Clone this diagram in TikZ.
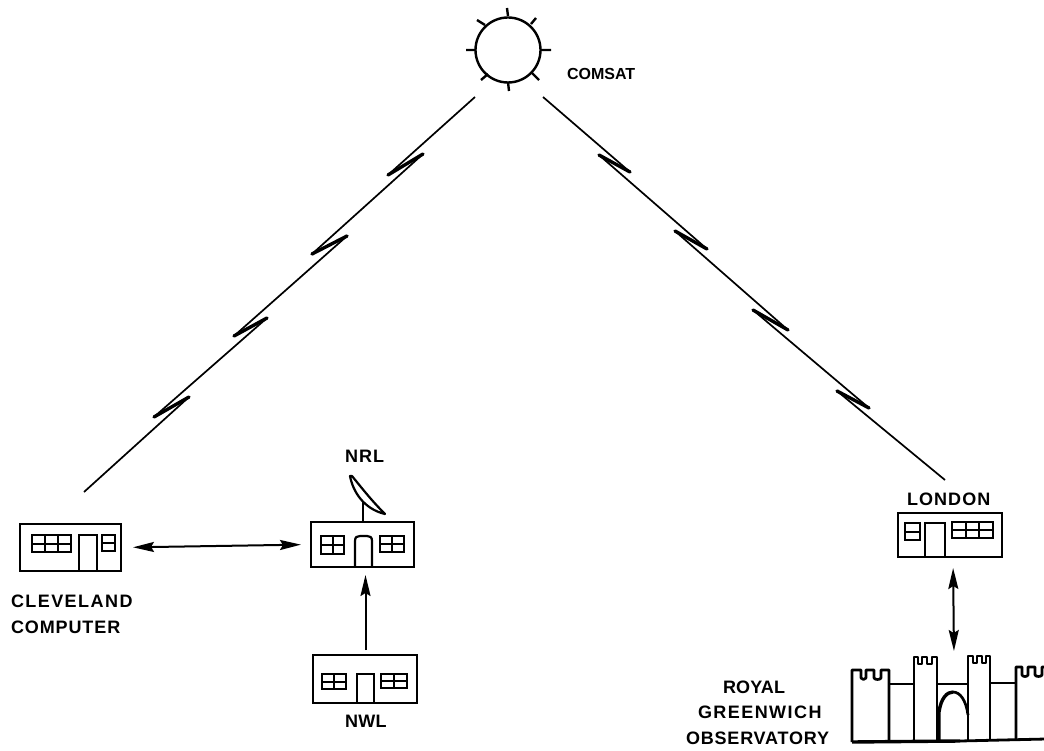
\documentclass[tikz,border=0pt]{standalone}
\usepackage{fontspec}
\setmainfont{Liberation Sans}
\newfontfamily\lblfont{Liberation Sans Bold}
\usetikzlibrary{arrows.meta,calc}
\newcommand{\bwin}[5]{% x0 y0 x1 y1 cols
  \draw[winline] (#1,#2) rectangle (#3,#4);
  \draw[paneline] (#1,{(#2+#4)/2}) -- (#3,{(#2+#4)/2});
  \ifnum#5>1
    \foreach \k in {1,...,\numexpr#5-1\relax}{
      \draw[paneline] ({#1+(#3-#1)*\k/#5},#2) -- ({#1+(#3-#1)*\k/#5},#4);
    }
  \fi
}
\newcommand{\bolt}[2]{\draw[boltline] (#1) -- (#2);}
\tikzset{
  bldg/.style={draw=black,line width=2.7pt,inner sep=0pt,outer sep=0pt,fill=white},
  winline/.style={line width=2.7pt},
  paneline/.style={line width=2pt},
  doorline/.style={line width=2.2pt},
  radio/.style={line width=1.7pt},
  boltline/.style={line width=3.4pt,line cap=round},
  tick/.style={line width=2.4pt},
  lbl/.style={anchor=base west,inner sep=0pt,outer sep=0pt,font=\fontsize{18}{18}\selectfont\lblfont},
  link/.style={line width=2pt},
  head/.style={{Stealth[length=21pt,width=10pt,inset=3pt]}-{Stealth[length=21pt,width=10pt,inset=3pt]}},
  headone/.style={-{Stealth[length=21pt,width=10pt,inset=3pt]}},
  castle/.style={line width=2.7pt,line join=round},
}
\begin{document}
\begin{tikzpicture}[x=1pt,y=-1pt]
\useasboundingbox (0,0) rectangle (1044,751);
% satellite
\node[draw=black,line width=2.4pt,circle,minimum size=65pt,inner sep=0pt,outer sep=0pt] (sat) at (508,50) {};
\draw[tick] (507,8)--(508,16) (536,18)--(531,24) (551,50)--(541,50) (539,80)--(532,73)
  (509,91)--(508,82) (481,80)--(488,74) (466,50)--(475,50) (477,20)--(485,25);
\node[lbl] (comsat) at (567,80) {\fontsize{16}{16}\selectfont COMSAT};
% left link
\coordinate (ls) at (475,97); \coordinate (le) at (84,492);
\coordinate (la1) at (388,175); \coordinate (lb1) at (423,154);
\coordinate (la2) at (312,254); \coordinate (lb2) at (347,236);
\coordinate (la3) at (234,336); \coordinate (lb3) at (267,318);
\coordinate (la4) at (154,417); \coordinate (lb4) at (189,397);
\draw[radio,line join=round] (ls)--(la1) (lb1)--(la2) (lb2)--(la3) (lb3)--(la4) (lb4)--(le);
\bolt{la1}{lb1}\bolt{la2}{lb2}\bolt{la3}{lb3}\bolt{la4}{lb4}
% right link
\coordinate (rs) at (543,97); \coordinate (re) at (945,480);
\coordinate (ra1) at (599,155); \coordinate (rb1) at (630,172);
\coordinate (ra2) at (675,231); \coordinate (rb2) at (707,249);
\coordinate (ra3) at (753,310); \coordinate (rb3) at (788,330);
\coordinate (ra4) at (837,391); \coordinate (rb4) at (869,408);
\draw[radio,line join=round] (rs)--(rb1) (ra1)--(rb2) (ra2)--(rb3) (ra3)--(rb4) (ra4)--(re);
\bolt{ra1}{rb1}\bolt{ra2}{rb2}\bolt{ra3}{rb3}\bolt{ra4}{rb4}
% Cleveland
\node[bldg,minimum width=101pt,minimum height=47pt] (cleveland) at (70.5,547.5) {};
\bwin{32}{535}{71}{552}{3}
\bwin{102}{535}{115}{551}{1}
\draw[doorline] (79,571)--(79,535)--(97,535)--(97,571);
\node[lbl] (cl1) at (11,607) {\addfontfeature{LetterSpace=8}CLEVELAND};
\node[lbl] (cl2) at (11,633) {\addfontfeature{LetterSpace=5}COMPUTER};
% NRL
\node[bldg,minimum width=103pt,minimum height=45pt] (nrl) at (362.5,544.5) {};
\bwin{321}{536}{344}{554}{2}
\bwin{380}{536}{404}{552}{2}
\draw[doorline] (355,567)--(355,541) .. controls (355,537) and (357,536) .. (360,536) -- (367,536) .. controls (370,536) and (372,537) .. (372,541) -- (372,567);
\node[lbl] (nrltext) at (345,462) {\addfontfeature{LetterSpace=6}NRL};
\draw[line width=2.2pt] (363,522)--(363,502);
\draw[line width=2.2pt,line join=round,fill=white] (350,476) .. controls (353,492) and (364,509) .. (385,514)
  .. controls (371,500) and (361,487) .. (352,476) -- cycle;
% NWL
\node[bldg,minimum width=104pt,minimum height=48pt] (nwl) at (365,679) {};
\bwin{322}{674}{346}{689}{2}
\bwin{381}{674}{407}{688}{2}
\draw[doorline] (357,703)--(357,674)--(374,674)--(374,703);
\node[lbl] (nwltext) at (345,727) {\addfontfeature{LetterSpace=2}NWL};
% London
\node[bldg,minimum width=104pt,minimum height=44pt] (london) at (950,535) {};
\bwin{905}{523}{920}{540}{1}
\bwin{952}{522}{993}{538}{3}
\draw[doorline] (925,557)--(925,523)--(945,523)--(945,557);
\node[lbl] (londontext) at (907,505) {\addfontfeature{LetterSpace=6}LONDON};
% Castle
\draw[castle] (852,742)--(852,670)--(861,670)--(861,678) .. controls (862,680) and (865,680) .. (866,678) --(866,670)--(874,670)--(874,678) .. controls (875,680) and (880,680) .. (881,678) --(881,670)--(889,670)--(889,742);
\draw[castle] (889,684)--(914,684);
\draw[castle] (914,742)--(914,657)--(918,657)--(918,664)--(922,664)--(922,657)--(927,657)--(927,664)--(932,664)--(932,657)--(937,657)--(937,741);
\draw[castle] (937,684)--(968,684);
\draw[castle] (968,741)--(968,656)--(973,656)--(973,663)--(977,663)--(977,656)--(982,656)--(982,663)--(986,663)--(986,656)--(990,656)--(990,741);
\draw[castle] (990,683)--(1016,683);
\draw[castle] (1016,740)--(1016,667)--(1022,667)--(1022,675) .. controls (1023,677) and (1027,677) .. (1028,675) --(1028,667)--(1035,667)--(1035,675) .. controls (1036,677) and (1041,677) .. (1042,675) --(1042,667)--(1046,667);
\draw[line width=3.4pt] (939,741)--(939,712) .. controls (941,698) and (947,692) .. (953,692);
\draw[castle] (953,692) .. controls (960,692) and (966,700) .. (968,715);
\draw[line width=3.4pt] (852,742)--(960,741);
\draw[line width=2.8pt] (960,741)--(1046,739);
\coordinate (castletop) at (954,657);
\node[lbl] (rg1) at (723,693) {\addfontfeature{LetterSpace=1}ROYAL};
\node[lbl] (rg2) at (698,718) {\addfontfeature{LetterSpace=8}GREENWICH};
\node[lbl] (rg3) at (686,744) {\addfontfeature{LetterSpace=4.5}OBSERVATORY};
% Arrows
\draw[head,link,shorten <=12pt,shorten >=10pt] (cleveland.east) -- (nrl.west);
\draw[headone,link,shorten <=5pt,shorten >=8pt] ([xshift=0.5pt]nwl.north) -- ([xshift=3pt]nrl.south);
\draw[head,link,shorten <=11pt,shorten >=6pt] ([xshift=3pt]london.south) -- (castletop);
\end{tikzpicture}
\end{document}
